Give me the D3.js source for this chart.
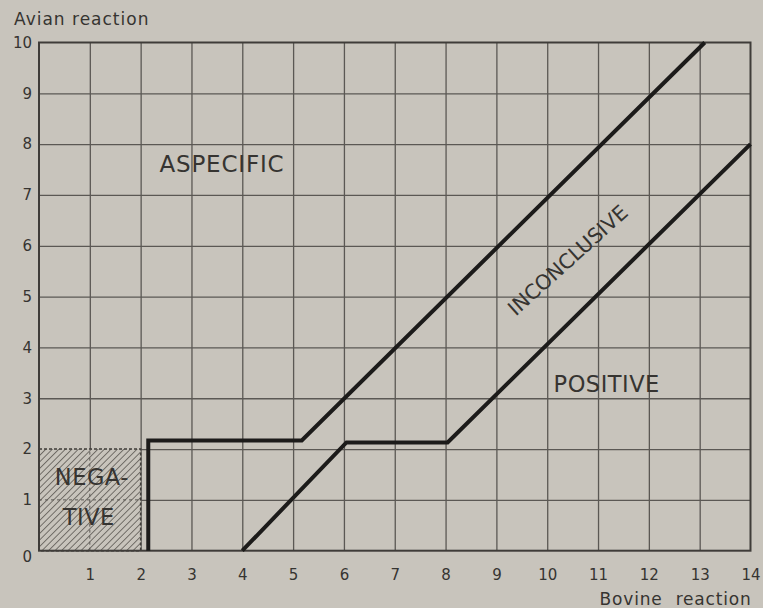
<!DOCTYPE html>
<html>
<head>
<meta charset="utf-8">
<script src="https://cdn.jsdelivr.net/npm/d3@7"></script>
<style>
  html, body { margin: 0; padding: 0; background: #c8c4bc; }
  svg { display: block; }
  text { font-family: "DejaVu Sans", sans-serif; fill: #363431; }
</style>
</head>
<body>
<div id="chart"></div>
<script>
// values
const xTicks = [1, 2, 3, 4, 5, 6, 7, 8, 9, 10, 11, 12, 13, 14]
const yTicks = [0, 1, 2, 3, 4, 5, 6, 7, 8, 9, 10]
// boundary between aspecific and inconclusive
const upperBoundary = [[2.15, 0], [2.15, 2.17], [5.17, 2.17], [13.1, 10]]
// boundary between inconclusive and positive
const lowerBoundary = [[4, 0], [6.05, 2.13], [8.04, 2.13], [14, 8.0]]
// negative zone (bovine < 2 and avian < 2)
const negativeZone = [0, 2]
const regionNames = ["ASPECIFIC", "INCONCLUSIVE", "POSITIVE", "NEGA-", "TIVE"]
const axisTitles = ["Avian reaction", "Bovine reaction"]

const width = 763
const height = 608
const margin = {left: 39, right: 12.5, top: 42.5, bottom: 57.3}

const x = d3.scaleLinear()
    .domain([0, 14])
    .range([margin.left, width - margin.right])
const y = d3.scaleLinear()
    .domain([0, 10])
    .range([height - margin.bottom, margin.top])

const svg = d3.select("#chart")
    .append("svg")
    .attr("width", width)
    .attr("height", height)

const defs = svg.append("defs")
defs.append("pattern")
    .attr("id", "hatch")
    .attr("patternUnits", "userSpaceOnUse")
    .attr("width", 4.6)
    .attr("height", 4.6)
    .attr("patternTransform", "rotate(45)")
  .append("line")
    .attr("x1", 0).attr("y1", 0)
    .attr("x2", 0).attr("y2", 4.6)
    .attr("stroke", "#55514c")
    .attr("stroke-width", 1.5)

// grid
const gridColor = "#5b5854"
svg.append("g")
    .attr("transform", `translate(0, ${y(0)})`)
    .call(d3.axisBottom(x).tickValues(xTicks.slice(0, -1)).tickSize(-(y(0) - y(10))).tickFormat(""))
    .call(g => g.select(".domain").remove())
    .call(g => g.selectAll("line").attr("stroke", gridColor).attr("stroke-width", 1.3))

svg.append("g")
    .attr("transform", `translate(${x(0)}, 0)`)
    .call(d3.axisLeft(y).tickValues(yTicks.slice(1, -1)).tickSize(-(x(14) - x(0))).tickFormat(""))
    .call(g => g.select(".domain").remove())
    .call(g => g.selectAll("line").attr("stroke", gridColor).attr("stroke-width", 1.3))

// negative zone, hatched
const nz = svg.append("g")
nz.append("rect")
    .attr("x", x(negativeZone[0]))
    .attr("y", y(negativeZone[1]))
    .attr("width", x(negativeZone[1]) - x(negativeZone[0]))
    .attr("height", y(negativeZone[0]) - y(negativeZone[1]))
    .attr("fill", "#c8c4bc")
nz.append("line")
    .attr("x1", x(1)).attr("x2", x(1))
    .attr("y1", y(0)).attr("y2", y(2))
    .attr("stroke", "#5b5854").attr("stroke-dasharray", "3,3")
nz.append("line")
    .attr("x1", x(0)).attr("x2", x(2))
    .attr("y1", y(1)).attr("y2", y(1))
    .attr("stroke", "#5b5854").attr("stroke-dasharray", "3,3")
nz.append("rect")
    .attr("x", x(negativeZone[0]))
    .attr("y", y(negativeZone[1]))
    .attr("width", x(negativeZone[1]) - x(negativeZone[0]))
    .attr("height", y(negativeZone[0]) - y(negativeZone[1]))
    .attr("fill", "url(#hatch)")
    .attr("stroke", "#3f3c39")
    .attr("stroke-width", 1.5)
    .attr("stroke-dasharray", "3,2")

// frame
svg.append("rect")
    .attr("x", x(0))
    .attr("y", y(10))
    .attr("width", x(14) - x(0))
    .attr("height", y(0) - y(10))
    .attr("fill", "none")
    .attr("stroke", "#3f3c39")
    .attr("stroke-width", 2)

// tick labels
svg.append("g")
    .attr("transform", `translate(0, ${y(0)})`)
    .call(d3.axisBottom(x).tickValues(xTicks).tickSize(0).tickPadding(19).tickFormat(d3.format("d")))
    .call(g => g.select(".domain").remove())
    .call(g => g.selectAll("text").attr("font-size", 15).attr("font-family", "DejaVu Sans").attr("fill", "#46433f"))

svg.append("g")
    .attr("transform", `translate(${x(0)}, 0)`)
    .call(d3.axisLeft(y).tickValues(yTicks).tickSize(0).tickPadding(7).tickFormat(d3.format("d")))
    .call(g => g.select(".domain").remove())
    .call(g => g.selectAll("text").attr("font-size", 15).attr("font-family", "DejaVu Sans").attr("fill", "#46433f"))
    .call(g => g.selectAll(".tick").filter(d => d === 0).select("text").attr("dy", "0.75em"))

// boundaries
const line = d3.line()
    .x(d => x(d[0]))
    .y(d => y(d[1]))

svg.append("path")
    .datum(upperBoundary)
    .attr("d", line)
    .attr("fill", "none")
    .attr("stroke", "#1c1b1a")
    .attr("stroke-width", 4)
    .attr("stroke-linejoin", "miter")

svg.append("path")
    .datum(lowerBoundary)
    .attr("d", line)
    .attr("fill", "none")
    .attr("stroke", "#1c1b1a")
    .attr("stroke-width", 4)
    .attr("stroke-linejoin", "miter")

// region labels
const labelColor = "#2a2826"
svg.append("text")
    .attr("x", x(3.6)).attr("y", y(7.58))
    .attr("font-size", 23)
    .attr("letter-spacing", 0.8)
    .attr("text-anchor", "middle")
    .attr("dominant-baseline", "middle")
    .attr("fill", labelColor)
    .text(regionNames[0])

svg.append("text")
    .attr("transform", `translate(${x(10.42)}, ${y(5.7)}) rotate(-42)`)
    .attr("font-size", 20.5)
    .attr("text-anchor", "middle")
    .attr("dominant-baseline", "middle")
    .attr("fill", labelColor)
    .text(regionNames[1])

svg.append("text")
    .attr("x", x(11.17)).attr("y", y(3.26))
    .attr("font-size", 22.5)
    .attr("letter-spacing", 0.5)
    .attr("text-anchor", "middle")
    .attr("dominant-baseline", "middle")
    .attr("fill", labelColor)
    .text(regionNames[2])

svg.append("text")
    .attr("x", x(1.04)).attr("y", y(1.43))
    .attr("font-size", 22.5)
    .attr("letter-spacing", 0.5)
    .attr("text-anchor", "middle")
    .attr("dominant-baseline", "middle")
    .attr("fill", labelColor)
    .text(regionNames[3])

svg.append("text")
    .attr("x", x(0.98)).attr("y", y(0.64))
    .attr("font-size", 22.5)
    .attr("letter-spacing", 0.5)
    .attr("text-anchor", "middle")
    .attr("dominant-baseline", "middle")
    .attr("fill", labelColor)
    .text(regionNames[4])

// axis titles
svg.append("text")
    .attr("x", 14).attr("y", 25)
    .attr("font-size", 17)
    .attr("letter-spacing", 1)
    .attr("fill", "#3a3835")
    .text(axisTitles[0])

svg.append("text")
    .attr("x", x(14) + 1).attr("y", 605)
    .attr("font-size", 17)
    .attr("letter-spacing", 0.8)
    .attr("word-spacing", 7)
    .attr("text-anchor", "end")
    .attr("fill", "#3a3835")
    .text(axisTitles[1])
</script>
</body>
</html>
